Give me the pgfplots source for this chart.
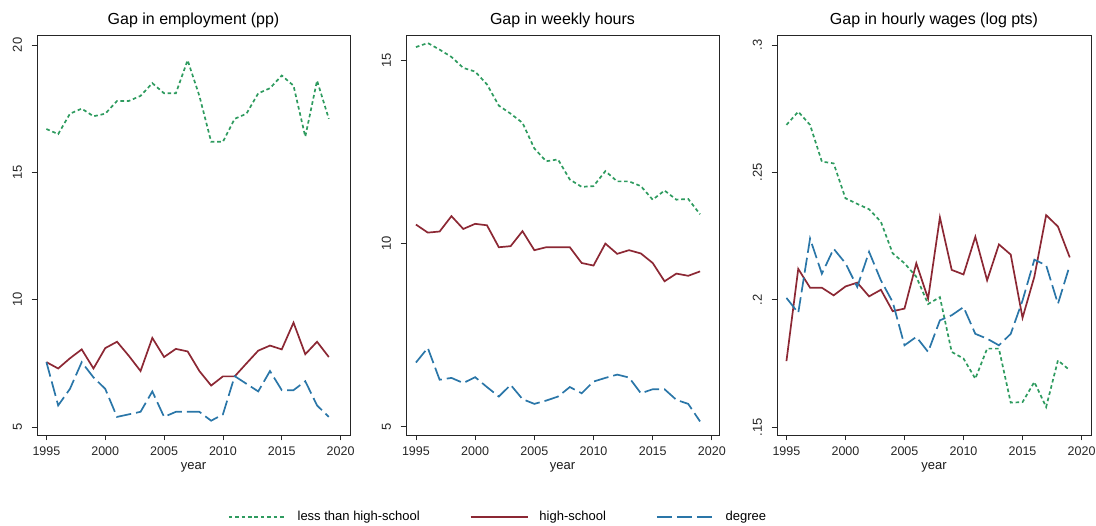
\documentclass[border=0pt]{standalone}
\usepackage{fontspec}
\setmainfont{Liberation Sans}
\usepackage{pgfplots}
\pgfplotsset{compat=1.18}
\usepackage{pgfplotstable}

\definecolor{cgreen}{RGB}{46,155,95}
\definecolor{cred}{RGB}{140,40,52}
\definecolor{cblue}{RGB}{42,118,168}

\pgfplotstableread{
year lhs hs deg
1995 16.7 7.55 7.55
1996 16.5 7.3 5.85
1997 17.3 7.7 6.5
1998 17.5 8.05 7.55
1999 17.2 7.3 6.95
2000 17.3 8.1 6.5
2001 17.8 8.35 5.4
2002 17.8 7.8 5.5
2003 18.0 7.2 5.6
2004 18.5 8.5 6.4
2005 18.1 7.75 5.4
2006 18.1 8.07 5.6
2007 19.4 7.97 5.6
2008 18.0 7.2 5.6
2009 16.2 6.63 5.25
2010 16.2 6.99 5.5
2011 17.1 6.99 7.0
2012 17.3 7.5 6.7
2013 18.1 8.0 6.4
2014 18.3 8.2 7.2
2015 18.8 8.05 6.45
2016 18.4 9.1 6.45
2017 16.4 7.86 6.8
2018 18.6 8.35 5.85
2019 17.1 7.75 5.4
}\emp

\pgfplotstableread{
year lhs hs deg
1995 15.37 10.52 6.75
1996 15.48 10.3 7.15
1997 15.3 10.33 6.28
1998 15.1 10.75 6.33
1999 14.8 10.4 6.19
2000 14.7 10.54 6.35
2001 14.35 10.5 6.08
2002 13.77 9.9 5.82
2003 13.55 9.93 6.14
2004 13.3 10.34 5.75
2005 12.6 9.82 5.62
2006 12.25 9.9 5.71
2007 12.3 9.9 5.82
2008 11.75 9.9 6.08
2009 11.55 9.47 5.91
2010 11.57 9.4 6.23
2011 11.98 10.0 6.33
2012 11.7 9.72 6.42
2013 11.7 9.82 6.34
2014 11.57 9.73 5.91
2015 11.2 9.47 6.02
2016 11.45 8.97 6.02
2017 11.2 9.18 5.73
2018 11.22 9.12 5.62
2019 10.8 9.24 5.14
}\hrs

\pgfplotstableread{
year lhs hs deg
1995 0.2686 0.1759 0.2007
1996 0.2738 0.2121 0.1948
1997 0.2686 0.2047 0.2240
1998 0.2542 0.2047 0.2102
1999 0.2535 0.2017 0.2200
2000 0.2398 0.2052 0.2143
2001 0.2376 0.2067 0.2050
2002 0.2355 0.2013 0.2188
2003 0.2306 0.2039 0.2076
2004 0.2182 0.1955 0.1991
2005 0.2143 0.1965 0.1821
2006 0.2090 0.2143 0.1854
2007 0.1983 0.2004 0.1795
2008 0.2010 0.2323 0.1919
2009 0.1795 0.2117 0.1939
2010 0.1769 0.2099 0.1971
2011 0.1690 0.2247 0.1866
2012 0.1808 0.2076 0.1847
2013 0.1808 0.2217 0.1821
2014 0.1596 0.2177 0.1866
2015 0.1598 0.1929 0.1997
2016 0.1677 0.2090 0.2157
2017 0.1579 0.2332 0.2135
2018 0.1762 0.2287 0.1984
2019 0.1723 0.2166 0.2135
}\wag

\pgfplotsset{
  panel/.style={
    scale only axis,
    anchor=south west,
    height=400pt,
    axis line style={draw=black!85, line width=0.9pt},
    tick align=outside,
    xtick pos=bottom, ytick pos=left,
    major tick length=5.5pt,
    tick style={draw=black!85, line width=0.8pt},
    xtick={1995,2000,...,2020},
    xticklabels={1995,2000,2005,2010,2015,2020},
    xmin=1994.2, xmax=2020.8,
    xticklabel style={font=\fontsize{12.5}{12.5}\selectfont, text=black!85},
    yticklabel style={font=\fontsize{13}{13}\selectfont, text=black!85, rotate=90, anchor=south},
    xticklabel shift=3pt,
    yticklabel shift=6pt,
    /pgf/number format/assume math mode=true,
    xlabel={year},
    xlabel style={font=\fontsize{13}{13}\selectfont, text=black!90, at={(axis description cs:0.5,0)}, anchor=base, yshift=-34.5pt, inner sep=0pt},
    title style={font=\fontsize{16}{16}\selectfont, at={(axis description cs:0.5,1)}, anchor=base, yshift=4.5pt, inner sep=0pt},
    clip=false,
  },
  lhsline/.style={cgreen, line width=1.7pt, dash pattern=on 3.6pt off 2.8pt},
  hsline/.style={cred, line width=1.7pt},
  degline/.style={cblue, line width=1.7pt, dash pattern=on 15pt off 5pt},
}

\begin{document}
\begin{tikzpicture}
\useasboundingbox (0,0) rectangle (1096pt,526pt);

\begin{axis}[panel, at={(37pt,91pt)}, width=313pt,
  title={Gap in employment (pp)},
  ymin=4.69, ymax=20.39, ytick={5,10,15,20}, yticklabels={5,10,15,20},
  legend columns=3,
  legend style={draw=none, fill=none, inner sep=0pt, outer sep=0pt,
    at={(axis description cs:0.61,-0.205)}, anchor=west,
    font=\fontsize{13}{13}\selectfont,
    /tikz/every odd column/.append style={column sep=9pt},
    /tikz/every even column/.append style={column sep=48pt}},
  legend image code/.code={\draw[#1] (0pt,0pt) -- (57pt,0pt);},
]
\addplot[lhsline] table[x=year,y=lhs] {\emp};
\addlegendentry{less than high-school}
\addplot[hsline] table[x=year,y=hs] {\emp};
\addlegendentry{high-school}
\addplot[degline] table[x=year,y=deg] {\emp};
\addlegendentry{degree}
\end{axis}

\begin{axis}[panel, at={(406pt,91pt)}, width=313pt,
  title={Gap in weekly hours},
  xmin=1994.16, xmax=2020.6,
  ymin=4.77, ymax=15.70, ytick={5,10,15}, yticklabels={5,10,15},
]
\addplot[lhsline] table[x=year,y=lhs] {\hrs};
\addplot[hsline] table[x=year,y=hs] {\hrs};
\addplot[degline] table[x=year,y=deg] {\hrs};
\end{axis}

\begin{axis}[panel, at={(777pt,91pt)}, width=314pt,
  title={Gap in hourly wages (log pts)},
  ymin=0.1469, ymax=0.3039, ytick={0.15,0.2,0.25,0.3}, yticklabels={.15,.2,.25,.3},
]
\addplot[lhsline] table[x=year,y=lhs] {\wag};
\addplot[hsline] table[x=year,y=hs] {\wag};
\addplot[degline] table[x=year,y=deg] {\wag};
\end{axis}
\end{tikzpicture}
\end{document}
